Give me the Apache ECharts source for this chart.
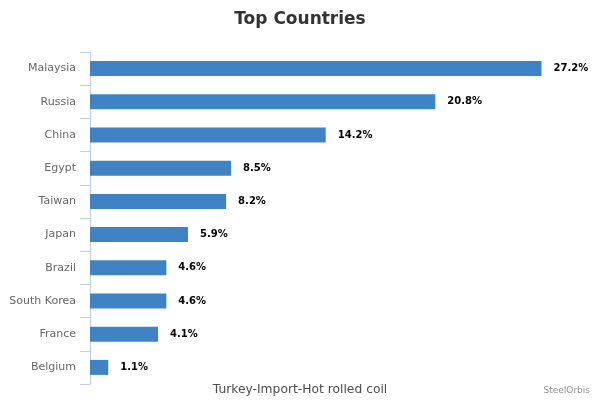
<!DOCTYPE html>
<html><head><meta charset="utf-8">
<script src="https://cdn.jsdelivr.net/npm/echarts@6/dist/echarts.min.js"></script>
<style>html,body{margin:0;padding:0;background:#fff}#c{width:600px;height:400px}</style>
</head><body><div id="c"></div>
<script>
const categories = ["Malaysia","Russia","China","Egypt","Taiwan","Japan","Brazil","South Korea","France","Belgium"];
const shares = [27.2,20.8,14.2,8.5,8.2,5.9,4.6,4.6,4.1,1.1];
const titleText = "Top Countries";
const axisTitle = "Turkey-Import-Hot rolled coil";
const creditText = "SteelOrbis";

const chart = echarts.init(document.getElementById('c'), null, {renderer:'canvas'});
chart.setOption({
  animation:false,
  backgroundColor:'#fff',
  title:{text:titleText,left:'center',top:6,textStyle:{fontFamily:'DejaVu Sans',fontSize:17,fontWeight:'bold',color:'#333'}},
  graphic:[
    {type:'text',left:'center',top:384,style:{text:axisTitle,fontFamily:'DejaVu Sans',fontSize:12.3,fill:'#4d4d4d'}},
    {type:'text',right:10,top:386,style:{text:creditText,fontFamily:'DejaVu Sans',fontSize:9,fill:'#909090'}}
  ],
  grid:{left:90,right:12,top:52,bottom:16,containLabel:false},
  xAxis:{type:'value',min:0,max:30,show:false},
  yAxis:{type:'category',data:categories,inverse:true,
    axisLine:{show:true,lineStyle:{color:'#C0D0E0',width:1}},
    axisTick:{show:true,length:10,alignWithLabel:false,lineStyle:{color:'#C0D0E0'}},
    axisLabel:{fontFamily:'DejaVu Sans',fontSize:11,color:'#666',margin:14},
    splitLine:{show:false}},
  series:[{type:'bar',data:shares,barWidth:15,itemStyle:{color:'#4083C4'},
    label:{show:true,position:'right',distance:12,formatter:p=>p.value.toFixed(1)+'%',
      fontFamily:'DejaVu Sans',fontSize:10,fontWeight:'bold',color:'#000'}}]
});
</script></body></html>
